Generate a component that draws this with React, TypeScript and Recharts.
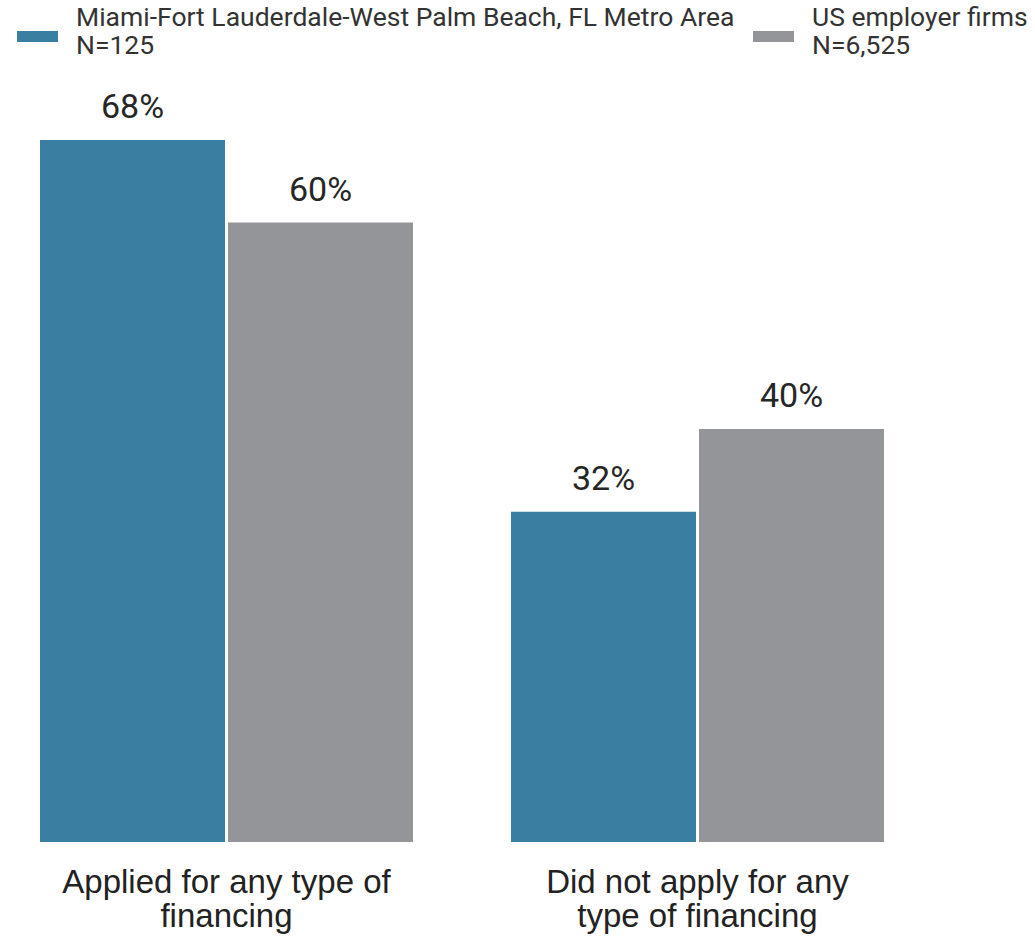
import { BarChart, Bar, XAxis, YAxis, LabelList } from "recharts";

const categories = [
  "Applied for any type of financing",
  "Did not apply for any type of financing",
];
const miamiValues = [68, 32];
const usValues = [60, 40];
const seriesNames = [
  ["Miami-Fort Lauderdale-West Palm Beach, FL Metro Area", "N=125"],
  ["US employer firms", "N=6,525"],
];

const BLUE = "#3a7ea1";
const GRAY = "#939598";

const data = categories.map((name, i) => ({
  name,
  miami: miamiValues[i],
  us: usValues[i],
}));

const TICK_FONT = "33px 'Liberation Sans', Arial, sans-serif";

// greedy word wrap measured with a canvas
function wrap(label: string, maxWidth: number): string[] {
  const ctx = document.createElement("canvas").getContext("2d");
  if (!ctx) return [label];
  ctx.font = TICK_FONT;
  const lines: string[] = [];
  let cur = "";
  for (const w of label.split(" ")) {
    const next = cur ? cur + " " + w : w;
    if (cur && ctx.measureText(next).width > maxWidth) {
      lines.push(cur);
      cur = w;
    } else {
      cur = next;
    }
  }
  if (cur) lines.push(cur);
  return lines;
}

function CategoryTick(props: any) {
  const { x, y, payload } = props;
  const lines = wrap(payload.value, 355);
  return (
    <text
      x={x}
      y={y + 51}
      textAnchor="middle"
      fill="#222"
      style={{ font: TICK_FONT }}
    >
      {lines.map((l, i) => (
        <tspan key={i} x={x} dy={i === 0 ? 0 : 34}>
          {l}
        </tspan>
      ))}
    </text>
  );
}

function LegendItem(props: { color: string; lines: string[]; left: number }) {
  return (
    <div style={{ position: "absolute", left: props.left, top: 0 }}>
      <div
        style={{
          position: "absolute",
          left: 0,
          top: 31,
          width: 41,
          height: 11,
          background: props.color,
        }}
      />
      <div
        style={{
          position: "absolute",
          left: 59,
          top: 3,
          whiteSpace: "nowrap",
          fontFamily: "Roboto, sans-serif",
          fontSize: 26.5,
          lineHeight: "28px",
          color: "#333",
        }}
      >
        {props.lines.map((l) => (
          <div key={l}>{l}</div>
        ))}
      </div>
    </div>
  );
}

const labelStyle = { fontFamily: "Roboto, sans-serif", fontSize: 34, fill: "#262626" };

export default function App() {
  return (
    <div style={{ position: "absolute", left: 0, top: 0, width: 1035, height: 936, background: "#fff", overflow: "hidden" }}>
      <LegendItem color={BLUE} lines={seriesNames[0]} left={17} />
      <LegendItem color={GRAY} lines={seriesNames[1]} left={753} />
      <div style={{ position: "absolute", left: -9, top: 0 }}>
        <BarChart
          width={1044}
          height={936}
          data={data}
          margin={{ top: 140, right: 102, bottom: 0, left: 0 }}
          barSize={185}
          barGap={3}
        >
          <XAxis
            dataKey="name"
            axisLine={false}
            tickLine={false}
            tickSize={0}
            tickMargin={0}
            height={94}
            interval={0}
            tick={<CategoryTick />}
          />
          <YAxis hide domain={[0, "dataMax"]} />
          <Bar dataKey="miami" fill={BLUE} isAnimationActive={false}>
            <LabelList
              dataKey="miami"
              position="top"
              offset={22}
              formatter={(v: any) => `${v}%`}
              style={labelStyle}
            />
          </Bar>
          <Bar dataKey="us" fill={GRAY} isAnimationActive={false}>
            <LabelList
              dataKey="us"
              position="top"
              offset={22}
              formatter={(v: any) => `${v}%`}
              style={labelStyle}
            />
          </Bar>
        </BarChart>
      </div>
    </div>
  );
}
